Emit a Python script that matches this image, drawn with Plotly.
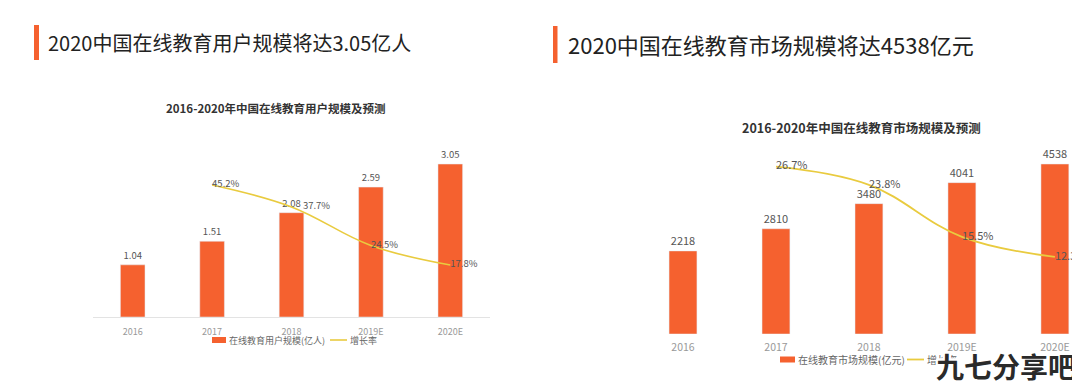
import plotly.graph_objects as go

# The page body has an 8px default margin, so the figure is 1072x378 and
# reference pixel coordinates are converted with that offset.
OFF = 8
W, H = 1080 - OFF, 386 - OFF

years = ["2016", "2017", "2018", "2019E", "2020E"]
users = [1.04, 1.51, 2.08, 2.59, 3.05]
user_growth = [None, 45.2, 37.7, 24.5, 17.8]
market = [2218, 2810, 3480, 4041, 4538]
market_growth = [None, 26.7, 23.8, 15.5, 12.3]

ORANGE = "#F5612F"
YELLOW = "#E9CB3F"
FONT = "Noto Sans CJK SC"


def px(x):
    return (x - OFF) / W


def py(y):
    return 1 - (y - OFF) / H


def pct_labels(vals, pad_idx=()):
    out = []
    for i, v in enumerate(vals):
        if v is None:
            out.append(None)
        else:
            s = f"{v}%"
            if i in pad_idx:
                s = "\u2003\u2009" + s
            out.append(s)
    return out


fig = go.Figure()

# Left panel
fig.add_trace(go.Bar(x=years, y=users, marker_color=ORANGE, width=0.31,
                     text=[f"{v:.2f}" for v in users], textposition="outside",
                     textfont=dict(size=9.5, color="#555"), cliponaxis=False,
                     xaxis="x", yaxis="y", showlegend=False))
fig.add_trace(go.Scatter(x=years, y=user_growth, mode="lines+text",
                         line=dict(color=YELLOW, width=1.6, shape="spline", smoothing=1.1),
                         text=pct_labels(user_growth, pad_idx=(2,)),
                         textposition="middle right", textfont=dict(size=9.5, color="#555"),
                         cliponaxis=False, xaxis="x", yaxis="y2", showlegend=False))

# Right panel
fig.add_trace(go.Bar(x=years, y=market, marker_color=ORANGE, width=0.30,
                     text=[str(v) for v in market], textposition="outside",
                     textfont=dict(size=11, color="#555"), cliponaxis=False,
                     xaxis="x2", yaxis="y3", showlegend=False))
fig.add_trace(go.Scatter(x=years, y=market_growth, mode="lines+text",
                         line=dict(color=YELLOW, width=1.8, shape="spline", smoothing=1.1),
                         text=pct_labels(market_growth),
                         textposition="middle right", textfont=dict(size=11, color="#555"),
                         cliponaxis=False, xaxis="x2", yaxis="y4", showlegend=False))

fig.update_layout(
    width=W, height=H, margin=dict(l=0, r=0, t=0, b=0),
    paper_bgcolor="white", plot_bgcolor="white",
    font=dict(family=FONT, color="#555"),
    showlegend=False,
    xaxis=dict(domain=[px(93), px(490)], type="category", range=[-0.5, 4.5],
               showline=True, linecolor="#e3e3e3", linewidth=1, showgrid=False,
               tickfont=dict(size=9, color="#999"), ticks="", ticklabelstandoff=6,
               anchor="y", zeroline=False),
    yaxis=dict(domain=[py(317), py(150)], range=[0, 3.33], visible=False, anchor="x"),
    yaxis2=dict(range=[0, 57.2], overlaying="y", visible=False, anchor="x"),
    xaxis2=dict(domain=[px(636.5), 1.0], type="category", range=[-0.5, 4.27],
                showline=False, showgrid=False,
                tickfont=dict(size=10.5, color="#999"), ticks="", ticklabelstandoff=5,
                anchor="y3", zeroline=False),
    yaxis3=dict(domain=[py(334), py(150)], range=[0, 4912], visible=False, anchor="x2"),
    yaxis4=dict(range=[0, 29.35], overlaying="y3", visible=False, anchor="x2"),
)

shapes = [
    dict(type="rect", xref="paper", yref="paper", x0=px(34), x1=px(39), y0=py(60), y1=py(25),
         fillcolor=ORANGE, line=dict(width=0)),
    dict(type="rect", xref="paper", yref="paper", x0=px(553), x1=px(557.5), y0=py(63), y1=py(26),
         fillcolor=ORANGE, line=dict(width=0)),
    # legends
    dict(type="rect", xref="paper", yref="paper", x0=px(212), x1=px(226), y0=py(343), y1=py(337),
         fillcolor=ORANGE, line=dict(width=0)),
    dict(type="line", xref="paper", yref="paper", x0=px(330), x1=px(347), y0=py(340), y1=py(340),
         line=dict(color=YELLOW, width=1.6)),
    dict(type="rect", xref="paper", yref="paper", x0=px(780), x1=px(795), y0=py(362.5), y1=py(356.5),
         fillcolor=ORANGE, line=dict(width=0)),
    dict(type="line", xref="paper", yref="paper", x0=px(907), x1=px(924), y0=py(359.5), y1=py(359.5),
         line=dict(color=YELLOW, width=1.8)),
]

halo = ", ".join(f"white {dx}px {dy}px 0" for dx in (-2, -1, 0, 1, 2) for dy in (-2, -1, 0, 1, 2)
                 if not (dx == 0 and dy == 0))

ann = [
    dict(text="2020中国在线教育用户规模将达3.05亿人", x=px(46), y=py(42), xanchor="left", yanchor="middle",
         font=dict(size=20, color="#222", family=FONT)),
    dict(text="2020中国在线教育市场规模将达4538亿元", x=px(566), y=py(44), xanchor="left", yanchor="middle",
         font=dict(size=22, color="#222", family=FONT)),
    dict(text="<b>2016-2020年中国在线教育用户规模及预测</b>", x=px(276), y=py(108), xanchor="center",
         yanchor="middle", font=dict(size=11.5, color="#333", family=FONT)),
    dict(text="<b>2016-2020年中国在线教育市场规模及预测</b>", x=px(861), y=py(127), xanchor="center",
         yanchor="middle", font=dict(size=12.5, color="#333", family=FONT)),
    dict(text="在线教育用户规模(亿人)", x=px(227), y=py(340), xanchor="left", yanchor="middle",
         font=dict(size=9, color="#666", family=FONT)),
    dict(text="增长率", x=px(348), y=py(340), xanchor="left", yanchor="middle",
         font=dict(size=9, color="#666", family=FONT)),
    dict(text="在线教育市场规模(亿元)", x=px(796), y=py(359.5), xanchor="left", yanchor="middle",
         font=dict(size=10, color="#666", family=FONT)),
    dict(text="增长率", x=px(925), y=py(359.5), xanchor="left", yanchor="middle",
         font=dict(size=10, color="#666", family=FONT)),
    dict(text="<b>九七分享吧</b>", x=px(1078), y=py(366), xanchor="right", yanchor="middle",
         font=dict(size=28, color="#2a2a2a", family=FONT, shadow=halo)),
]
for a in ann:
    a.update(xref="paper", yref="paper", showarrow=False)

fig.update_layout(shapes=shapes, annotations=ann)

fig.write_html("out.html")
